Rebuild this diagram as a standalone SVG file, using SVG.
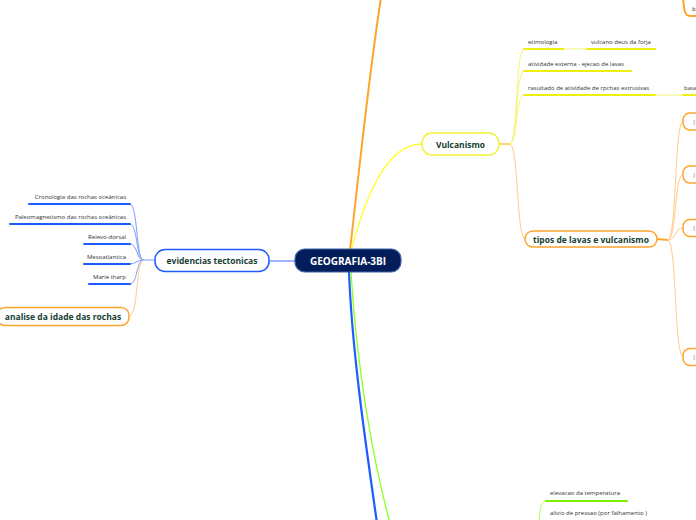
<svg xmlns="http://www.w3.org/2000/svg" width="696" height="520" viewBox="0 0 696 520">
<style>
.bg{fill:#ffffff}
.lbl{font-family:"Open Sans","Noto Sans",sans-serif;font-weight:bold;font-size:8.5px;fill:#163e33;text-anchor:middle}
.root{font-family:"Open Sans","Noto Sans",sans-serif;font-weight:bold;font-size:10px;fill:#ffffff;text-anchor:middle}
.sm{font-family:"Open Sans","Noto Sans",sans-serif;font-size:6px;fill:#333333}
.gr{font-family:"Open Sans","Noto Sans",sans-serif;font-size:8px;fill:#8a9696}
.c{fill:none;stroke-linecap:round}
.bl{stroke:#7f9cff;stroke-width:1}
.blu{stroke:#1f5cff;stroke-width:2}
.ye{stroke:#f5f57a;stroke-width:1}
.yeu{stroke:#eeee10;stroke-width:2}
.or{stroke:#ffcb8a;stroke-width:1}
.oru{stroke:#ffa42e;stroke-width:2}
.gn{stroke:#b5ff5a;stroke-width:1}
.gnu{stroke:#80ee00;stroke-width:2}
.box{fill:#ffffff;stroke-width:1.5}
</style>
<rect class="bg" x="0" y="0" width="696" height="520"/>
<g id="connectors">
  <path class="c oru" d="M350 250 C356 200 368 80 381 -2"/>
  <path class="c" stroke="#ffff33" stroke-width="1.5" d="M351 250 C365 200 385 144 422 144"/>
  <path class="c" stroke="#1f5cff" stroke-width="2.2" d="M349 272 C352 350 365 440 378 530"/>
  <path class="c" stroke="#8cff1a" stroke-width="1.3" d="M351 272 C356 360 372 460 392 530"/>
  <path class="c" stroke="#7f9cff" stroke-width="1.5" d="M269 261 L295 261"/>
  <path class="c bl" d="M143 260 L155 260"/>
  <path class="c bl" d="M130 204 C138 204 136 260 143 260"/>
  <path class="c bl" d="M130 224 C138 224 136 260 143 260"/>
  <path class="c bl" d="M130 244 C138 244 136 260 143 260"/>
  <path class="c bl" d="M130 264 C136 264 137 260 143 260"/>
  <path class="c bl" d="M130 284 C138 284 136 260 143 260"/>
  <path class="c or" d="M130 316 C138 316 136 260 143 260"/>
  <path class="c" stroke="#ffc832" stroke-width="1.5" d="M499 144 L510 144"/>
  <path class="c ye" d="M510 144 C518 144 515 49 524 49"/>
  <path class="c ye" d="M510 144 C518 144 515 71 524 71"/>
  <path class="c ye" d="M510 144 C518 144 515 95 524 95"/>
  <path class="c ye" d="M563 49 L587 49"/>
  <path class="c ye" d="M655 95 L683 95"/>
  <path class="c or" d="M510 144 C519 144 516 239 525 239"/>
  <path class="c oru" d="M657 239 L668 240"/>
  <path class="c or" d="M668 240 C677 240 674 121 683 121"/>
  <path class="c or" d="M668 240 C677 240 674 174 683 174"/>
  <path class="c or" d="M668 240 C677 240 674 228 683 228"/>
  <path class="c or" d="M668 240 C677 240 674 357 683 357"/>
  <path class="c oru" d="M683 -2 C684 8 684 16 690 16 L698 16"/>
  <path class="c gn" d="M546 501 C540 501 540 510 539 525"/>
</g>
<g id="root">
  <rect x="295" y="249" width="106" height="23" rx="10" fill="#031c5a" stroke="#3d5fa8" stroke-width="1.2"/>
  <text class="root" x="348" y="265">GEOGRAFIA-3BI</text>
</g>
<g id="evidencias">
  <rect class="box" x="155" y="249.5" width="114" height="22" rx="10" stroke="#1f5cff"/>
  <text class="lbl" x="212" y="264">evidencias tectonicas</text>
</g>
<g id="cronologia">
  <text class="sm" x="126" y="199" text-anchor="end">Cronologia das rochas oceânicas</text>
  <path class="c blu" d="M29 204 L130 204"/>
</g>
<g id="paleomagnetismo">
  <text class="sm" x="126" y="219" text-anchor="end">Paleomagnetismo das rochas oceânicas</text>
  <path class="c blu" d="M10 224 L130 224"/>
</g>
<g id="relevo">
  <text class="sm" x="126" y="239" text-anchor="end">Relevo-dorsal</text>
  <path class="c blu" d="M84 244 L130 244"/>
</g>
<g id="mesoatlantica">
  <text class="sm" x="126" y="259" text-anchor="end">Mesoatlantica</text>
  <path class="c blu" d="M84 264 L130 264"/>
</g>
<g id="marie">
  <text class="sm" x="126" y="279" text-anchor="end">Marie tharp</text>
  <path class="c blu" d="M89 284 L130 284"/>
</g>
<g id="analise">
  <rect class="box" x="-3" y="307.5" width="132" height="18" rx="8" stroke="#ffa42e"/>
  <text class="lbl" x="63" y="319.5">analise da idade das rochas</text>
</g>
<g id="vulcanismo">
  <rect class="box" x="422" y="133" width="77" height="22" rx="10" stroke="#f2f23c"/>
  <text class="lbl" x="460.5" y="147.5">Vulcanismo</text>
</g>
<g id="etimologia">
  <text class="sm" x="528" y="44">etimologia</text>
  <path class="c yeu" d="M524 49 L563 49"/>
</g>
<g id="vulcano">
  <text class="sm" x="591" y="44">vulcano deus da forja</text>
  <path class="c yeu" d="M587 49 L655 49"/>
</g>
<g id="atividade">
  <text class="sm" x="528" y="66">atividade externa - ejecao de lavas</text>
  <path class="c yeu" d="M524 71 L631 71"/>
</g>
<g id="rasultado">
  <text class="sm" x="528" y="90">rasultado de atividade de rpchas extrusivas</text>
  <path class="c yeu" d="M524 95 L655 95"/>
</g>
<g id="basalto">
  <text class="sm" x="684" y="90">basalto</text>
  <path class="c yeu" d="M683 95 L700 95"/>
</g>
<g id="top-b">
  <text class="sm" x="692" y="11">ba</text>
</g>
<g id="tipos">
  <rect class="box" x="525" y="231" width="132" height="16" rx="8" stroke="#ffa42e"/>
  <text class="lbl" x="591" y="242.5">tipos de lavas e vulcanismo</text>
</g>
<g id="lava1">
  <rect class="box" x="683" y="113" width="40" height="17" rx="7" stroke="#ffa42e"/>
  <text class="gr" x="693" y="124.5">I</text>
</g>
<g id="lava2">
  <rect class="box" x="683" y="166" width="40" height="17" rx="7" stroke="#ffa42e"/>
  <text class="gr" x="693" y="177.5">I</text>
</g>
<g id="lava3">
  <rect class="box" x="683" y="219.5" width="40" height="17" rx="7" stroke="#ffa42e"/>
  <text class="gr" x="693" y="231">I</text>
</g>
<g id="lava4">
  <rect class="box" x="683" y="348.5" width="40" height="17" rx="7" stroke="#ffa42e"/>
  <text class="gr" x="693" y="360">I</text>
</g>
<g id="elevacao">
  <text class="sm" x="550" y="495">elevacao da temperatura</text>
  <path class="c gnu" d="M546 501 L627 501"/>
</g>
<g id="alivio">
  <text class="sm" x="550" y="515">alivio de pressao (por falhamento )</text>
</g>
</svg>
